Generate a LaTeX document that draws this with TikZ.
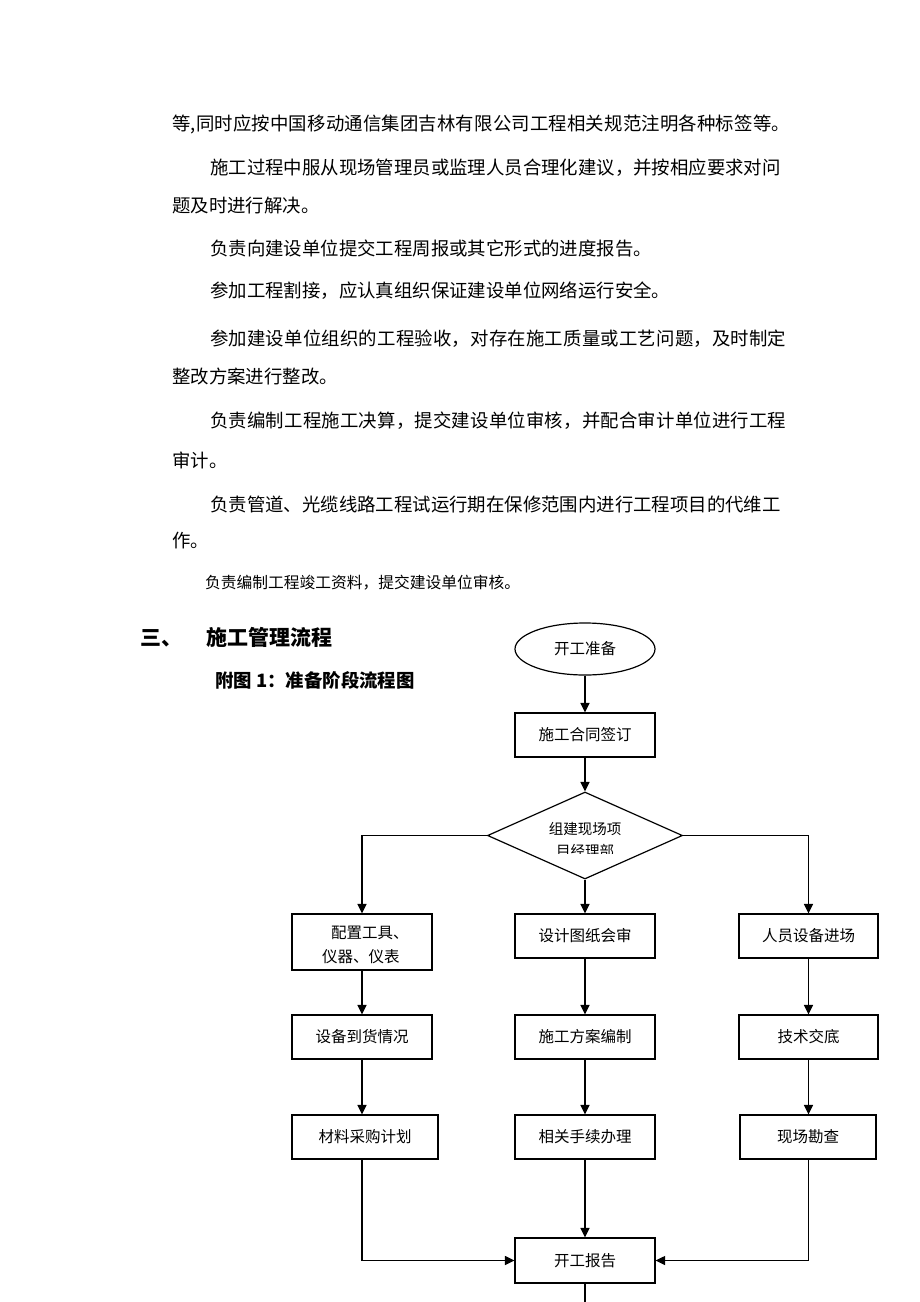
\documentclass[tikz,border=0pt]{standalone}
\usepackage{fontspec}
\setmainfont{Noto Sans CJK SC}
\usetikzlibrary{arrows.meta,shapes.geometric}
\tikzset{
  para/.style={anchor=west, inner sep=0pt, font=\fontsize{18.4}{22}\selectfont, text height=15.5pt, text depth=2.2pt},
  parasp/.style={para, font=\fontsize{18.4}{22}\selectfont\addfontfeature{LetterSpace=1.05}},
  parafirst/.style={para, font=\fontsize{18.4}{22}\selectfont\addfontfeature{LetterSpace=0.9}},
  parasmall/.style={anchor=west, inner sep=0pt, font=\fontsize{15.75}{19}\selectfont, text height=13.3pt, text depth=1.9pt},
  head/.style={anchor=west, inner sep=0pt, font=\fontsize{21}{25}\selectfont\bfseries, text height=17.6pt, text depth=2.5pt},
  subhead/.style={anchor=west, inner sep=0pt, font=\fontsize{18.4}{22}\selectfont\bfseries, text height=15.5pt, text depth=2.2pt},
  flowtxt/.style={inner sep=0pt, font=\fontsize{15.5}{18}\selectfont, text height=13pt, text depth=1.9pt},
  dtxt/.style={inner sep=0pt, font=\fontsize{14.5}{17}\selectfont, text height=12.2pt, text depth=1.8pt},
  box/.style={draw, line width=1.2pt, flowtxt, minimum width=140pt, minimum height=44pt},
  ln/.style={line width=1.35pt},
  arr/.style={line width=1.35pt, -{Triangle[length=9.5pt,width=9pt]}}
}
\begin{document}
\begin{tikzpicture}[x=1pt,y=-1pt]
\useasboundingbox (0,0) rectangle (920,1302);
\fill[white] (0,0) rectangle (920,1302);
% body text
\node[parafirst] (l1) at (172,124) {等,同时应按中国移动通信集团吉林有限公司工程相关规范注明各种标签等。};
\node[para] (l2) at (210,168) {施工过程中服从现场管理员或监理人员合理化建议，并按相应要求对问};
\node[para] (l3) at (172,206) {题及时进行解决。};
\node[para] (l4) at (210,249) {负责向建设单位提交工程周报或其它形式的进度报告。};
\node[para] (l5) at (210,291) {参加工程割接，应认真组织保证建设单位网络运行安全。};
\node[parasp] (l6) at (210,339) {参加建设单位组织的工程验收，对存在施工质量或工艺问题，及时制定};
\node[para] (l7) at (172,377) {整改方案进行整改。};
\node[parasp] (l8) at (210,421) {负责编制工程施工决算，提交建设单位审核，并配合审计单位进行工程};
\node[para] (l9) at (172,461) {审计。};
\node[para] (l10) at (210,505) {负责管道、光缆线路工程试运行期在保修范围内进行工程项目的代维工};
\node[para] (l11) at (172,541) {作。};
\node[parasmall] (l12) at (205,583) {负责编制工程竣工资料，提交建设单位审核。};
% headings
\node[head] (h3) at (140,638) {三、};
\node[head] (h3t) at (206,638) {施工管理流程};
\node[subhead] (fig) at (215,681) {附图 1：准备阶段流程图};
% flowchart
\node[draw, ellipse, line width=1.2pt, flowtxt, minimum width=140pt, minimum height=52pt] (start) at (585,649) {开工准备};
\node[box] (sign) at (585,735) {施工合同签订};
\node[diamond, draw, line width=1.2pt, inner sep=0pt, minimum width=195pt, minimum height=87pt] (org) at (585,835.5) {};
\node[dtxt] (orgt1) at (585,829) {组建现场项};
\begin{scope}
\clip (480,840) rectangle (690,853.5);
\node[dtxt] (orgt2) at (585,851.5) {目经理部};
\end{scope}
\node[box, minimum height=56pt] (tools) at (362,942) {};
\node[flowtxt, anchor=west] (toolst1) at (331,933) {配置工具、};
\node[flowtxt, anchor=west] (toolst2) at (322,957) {仪器、仪表};
\node[box] (review) at (585,936) {设计图纸会审};
\node[box, minimum width=139pt] (staff) at (808.5,936) {人员设备进场};
\node[box] (arrive) at (362,1037) {设备到货情况};
\node[box] (plan) at (585,1037) {施工方案编制};
\node[box, minimum width=139pt] (brief) at (808.5,1037) {技术交底};
\node[box, minimum width=146pt] (purchase) at (365,1137) {材料采购计划};
\node[box] (proc) at (585,1137) {相关手续办理};
\node[box, minimum width=136pt] (survey) at (808,1137) {现场勘查};
\node[box, minimum height=45pt] (report) at (585,1260.5) {开工报告};
\coordinate (bottomend) at (585,1302);
% connectors
\draw[arr] (start) -- (sign);
\draw[arr] (sign) -- (org.north);
\draw[arr] (org.west) -| (tools.north);
\draw[arr] (org.east) -| (staff.north);
\draw[arr] (org.south) -- (review.north);
\draw[arr] (tools) -- (arrive);
\draw[arr] (review) -- (plan);
\draw[arr] (staff) -- (brief);
\draw[arr] (arrive.south) -- (purchase.north -| arrive.south);
\draw[arr] (plan) -- (proc);
\draw[arr] (brief.south) -- (survey.north -| brief.south);
\draw[arr] (purchase.south -| tools.south) |- (report.west);
\draw[arr] (proc) -- (report);
\draw[arr] (survey.south -| staff.south) |- (report.east);
\draw[ln] (report) -- (bottomend);
\end{tikzpicture}
\end{document}
